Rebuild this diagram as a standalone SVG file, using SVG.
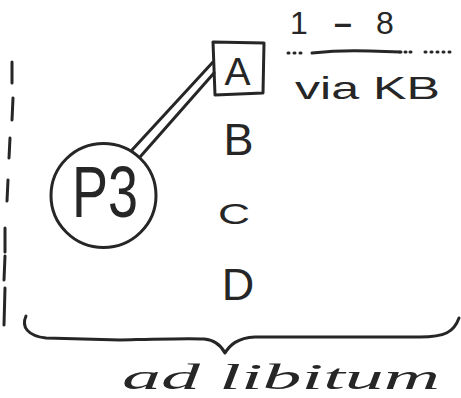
<svg xmlns="http://www.w3.org/2000/svg" width="461" height="398" viewBox="0 0 461 398">
<style>
.ink{fill:none;stroke:#262626;stroke-width:3;stroke-linecap:round;stroke-linejoin:round}
.t{fill:#262626;font-family:"Liberation Sans","DejaVu Sans",sans-serif}
.c{text-anchor:middle}
.s{fill:#262626;font-family:"Liberation Serif","DejaVu Serif",serif;font-style:italic}
</style>
<rect width="461" height="398" fill="#ffffff"/>
<g id="scope-line" class="ink">
<line x1="12" y1="62" x2="12" y2="83"/>
<line x1="13" y1="98" x2="12" y2="120"/>
<line x1="10" y1="138" x2="9" y2="158"/>
<line x1="8" y1="180" x2="7" y2="201"/>
<line x1="5" y1="228" x2="5" y2="252"/>
<line x1="5" y1="256" x2="4" y2="280"/>
<line x1="5" y1="288" x2="4" y2="325"/>
</g>
<g id="connectors" class="ink">
<line x1="132" y1="150" x2="213" y2="62"/>
<line x1="140" y1="157" x2="214" y2="73"/>
</g>
<g id="node-P3">
<ellipse cx="103.5" cy="195.5" rx="52.5" ry="52" class="ink"/>
<text x="105" y="217" class="t c" font-size="72" textLength="66" lengthAdjust="spacingAndGlyphs">P3</text>
</g>
<g id="node-A">
<path d="M213,42 L264,43 L263,93 L215,95 Z" class="ink" stroke-width="3.5"/>
<text x="237.5" y="85" class="t c" font-size="39">A</text>
</g>
<g id="node-B"><text x="238.5" y="155" class="t c" font-size="45">B</text></g>
<g id="node-C"><text x="234" y="224" class="t c" font-size="30" textLength="32" lengthAdjust="spacingAndGlyphs">C</text></g>
<g id="node-D"><text x="238" y="300" class="t c" font-size="45">D</text></g>
<g id="range-label">
<text class="t c" y="34" font-size="32"><tspan x="299">1</tspan><tspan x="343" font-weight="bold">–</tspan><tspan x="385">8</tspan></text>
<g class="ink" stroke-width="2.5">
<line x1="288" y1="53" x2="306" y2="53" stroke-dasharray="1 5"/>
<path d="M312,53 C330,51 345,50 370,51 L400,52" stroke-width="3"/>
<line x1="400" y1="52" x2="412" y2="52" stroke-dasharray="1 4"/>
<line x1="425" y1="52" x2="452" y2="52" stroke-dasharray="1 5"/>
</g>
<text x="295" y="99" class="t" font-size="32" textLength="145" lengthAdjust="spacingAndGlyphs">via KB</text>
</g>
<g id="brace">
<path class="ink" stroke-width="4" d="M26,316 C21,327 28,336 46,338 L120,340 C160,339 190,338 204,339 C214,340 221,345 225,353 C230,345 237,338 255,337 L420,337 C445,337 454,332 459,318"/>
<text x="122" y="389" class="s" font-size="35" textLength="318" lengthAdjust="spacingAndGlyphs">ad libitum</text>
</g>
</svg>
